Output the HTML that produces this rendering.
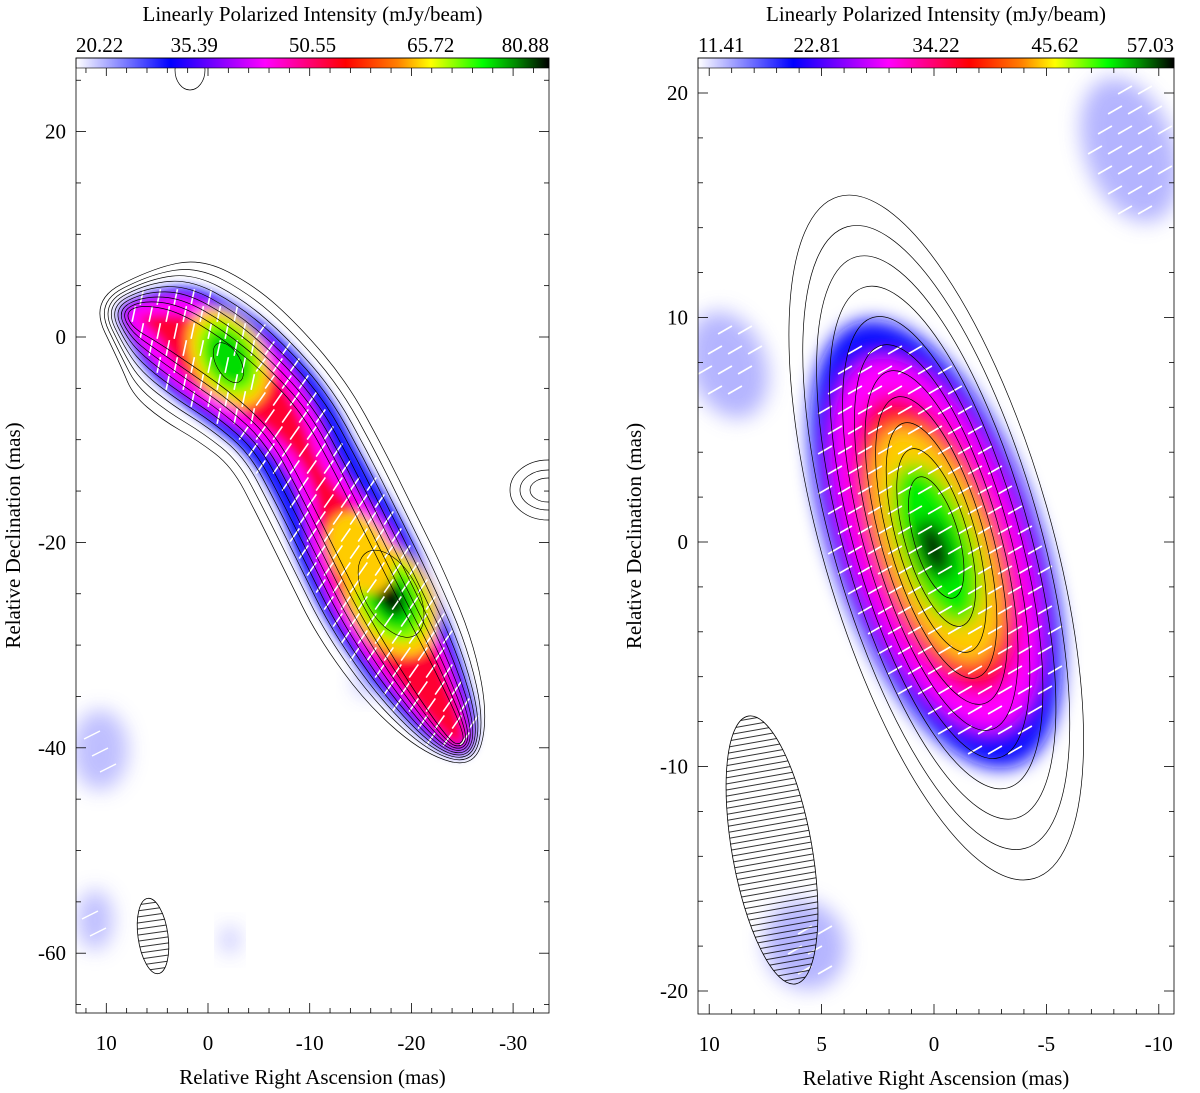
<!DOCTYPE html>
<html><head><meta charset="utf-8">
<style>
html,body{margin:0;padding:0;background:#fff;}
svg{display:block;font-family:"Liberation Serif",serif;}
</style></head>
<body>
<svg id="chart" width="1200" height="1093" viewBox="0 0 1200 1093" xmlns="http://www.w3.org/2000/svg">
<defs>
<linearGradient id="cmap" x1="0" x2="1" y1="0" y2="0">
<stop offset="0" stop-color="#ffffff"/><stop offset="0.2" stop-color="#0000ff"/>
<stop offset="0.4" stop-color="#ff00ff"/><stop offset="0.57" stop-color="#ff0000"/>
<stop offset="0.68" stop-color="#ff8000"/><stop offset="0.75" stop-color="#ffff00"/>
<stop offset="0.86" stop-color="#00ff00"/><stop offset="0.93" stop-color="#008800"/>
<stop offset="1" stop-color="#000000"/></linearGradient>
<filter id="blurL" x="-20%" y="-20%" width="140%" height="140%"><feGaussianBlur stdDeviation="5"/></filter>
<filter id="blurR" x="-20%" y="-20%" width="140%" height="140%"><feGaussianBlur stdDeviation="9"/></filter>
<filter id="blurF" x="-50%" y="-50%" width="200%" height="200%"><feGaussianBlur stdDeviation="10"/></filter>
<clipPath id="clipL"><rect x="76" y="58" width="473" height="955"/></clipPath>
<clipPath id="clipR"><rect x="698" y="58" width="476" height="956"/></clipPath>
<pattern id="hatch" width="10" height="6" patternUnits="userSpaceOnUse"><line x1="0" y1="3" x2="10" y2="3" stroke="#000" stroke-width="0.8"/></pattern>
</defs>
<g id="L" clip-path="url(#clipL)"></g>
<g id="R" clip-path="url(#clipR)"></g>
<g id="axes"></g>
</svg>
<script>
// ---- data ----
const leftRidgeRA  = [7, 4, 0, -4, -8, -11, -14, -17, -21, -24.5];
const leftRidgeDec = [2, 1, -1.5, -4.5, -8.5, -14, -20, -26, -33, -39];
const leftOuterHW  = [5, 7.5, 8, 7.5, 7, 7, 7, 7, 6, 3.5];
const contourLevels = [1, 0.88, 0.78, 0.69, 0.6, 0.51, 0.42, 0.33, 0.24];
const leftBlueHW = [2.5, 4.8, 5.6, 5.6, 5, 4.6, 5.6, 5.6, 4.3, 2.5];
const leftMagHW  = [1.5, 3.6, 4.6, 4.3, 3, 2, 4.1, 4.4, 3.1, 1.5];
const leftRedHW  = [0, 1.5, 3.6, 3, 1.5, 0.5, 3.1, 3.6, 2.3, 1];
const leftHotRA  = [-2, -18, -15];
const leftHotDec = [-2, -25.5, -21];
const leftHotLevel = [0.86, 1.0, 0.7];
const rightContourA = [15.8, 14.4, 13.0, 11.6, 10.2, 8.9, 7.7, 6.5, 5.3, 4.1, 2.8];
const rightContourB = [5.1, 4.6, 4.1, 3.65, 3.2, 2.8, 2.45, 2.1, 1.75, 1.4, 1.0];
const rightColorA = [10.5, 8.7, 7, 5.5, 3.8, 1.4];
const rightColorB = [4.6, 3.8, 3.0, 2.3, 1.6, 0.7];
const rightColors = ["#1010ff", "#ff00ff", "#ff0030", "#ffcc00", "#00ee00", "#000000"];
const leftXTicks = [10, 0, -10, -20, -30];
const leftYTicks = [20, 0, -20, -40, -60];
const rightXTicks = [10, 5, 0, -5, -10];
const rightYTicks = [20, 10, 0, -10, -20];
const leftCbarLabels = ["20.22", "35.39", "50.55", "65.72", "80.88"];
const rightCbarLabels = ["11.41", "22.81", "34.22", "45.62", "57.03"];

// ---- scales ----
const lx = ra => 208 - 10.17 * ra, ly = d => 337 - 10.27 * d;
const rx = ra => 934 - 22.48 * ra, ry = d => 542 - 22.45 * d;
const NS = "http://www.w3.org/2000/svg";
function mk(parent, tag, attrs){const e=document.createElementNS(NS,tag);for(const k in attrs)e.setAttribute(k,attrs[k]);parent.appendChild(e);return e;}
const L = document.getElementById('L'), R = document.getElementById('R'), A = document.getElementById('axes');

function ridgePoly(hw){
  const pts = leftRidgeRA.map((r,i)=>[lx(r), ly(leftRidgeDec[i])]);
  const left=[], right=[];
  for(let i=0;i<pts.length;i++){
    const a=pts[Math.max(0,i-1)], b=pts[Math.min(pts.length-1,i+1)];
    let dx=b[0]-a[0], dy=b[1]-a[1]; const n=Math.hypot(dx,dy); dx/=n; dy/=n;
    const w = hw[i]*10.2;
    left.push([pts[i][0]-dy*w, pts[i][1]+dx*w]);
    right.push([pts[i][0]+dy*w, pts[i][1]-dx*w]);
  }
  const p0=pts[0], p1=pts[1]; let ex=p0[0]-p1[0], ey=p0[1]-p1[1]; let en=Math.hypot(ex,ey);
  const cap0=[p0[0]+ex/en*hw[0]*10, p0[1]+ey/en*hw[0]*10];
  const q0=pts[pts.length-1], q1=pts[pts.length-2]; ex=q0[0]-q1[0]; ey=q0[1]-q1[1]; en=Math.hypot(ex,ey);
  const cap1=[q0[0]+ex/en*hw[hw.length-1]*10, q0[1]+ey/en*hw[hw.length-1]*10];
  return [cap0, ...left, cap1, ...right.reverse()];
}
function smoothPath(p){
  let d=`M${((p[0][0]+p[1][0])/2).toFixed(1)},${((p[0][1]+p[1][1])/2).toFixed(1)}`;
  for(let i=1;i<=p.length;i++){
    const c=p[i%p.length], n=p[(i+1)%p.length];
    d+=` Q${c[0].toFixed(1)},${c[1].toFixed(1)} ${((c[0]+n[0])/2).toFixed(1)},${((c[1]+n[1])/2).toFixed(1)}`;
  }
  return d+'Z';
}
function inPoly(x,y,p){let c=false;for(let i=0,j=p.length-1;i<p.length;j=i++){if(((p[i][1]>y)!=(p[j][1]>y))&&(x<(p[j][0]-p[i][0])*(y-p[i][1])/(p[j][1]-p[i][1])+p[i][0]))c=!c;}return c;}

// ---- left faint blobs ----
[[100,750,28,40],[95,920,18,30],[230,940,8,14],[372,680,18,16]].forEach((b,i)=>{
  const e=mk(L,'ellipse',{cx:b[0],cy:b[1],rx:b[2],ry:b[3],fill:'#b8b8ff',filter:'url(#blurF)',opacity:0.9});
  
  
});
// ---- left colour layers ----
const gL = mk(L,'g',{filter:'url(#blurL)'});
[[leftBlueHW,'#1a1aff'],[leftMagHW,'#ff00ff'],[leftRedHW,'#ff0030']].forEach(([hw,c])=>{
  const p=mk(gL,'path',{d:smoothPath(ridgePoly(hw)),fill:c});
  
  
});
leftHotRA.forEach((r,i)=>{
  const s=leftHotLevel[i], cx=lx(r), cy=ly(leftHotDec[i]);
  const layers=[['#ffcc00',1],['#88ff00',0.75],['#00dd00',0.55],['#004400',0.3],['#000',0.15]];
  layers.forEach(([c,f],k)=>{
    if(s<0.8 && k>0) return;
    if(s<0.95 && k>2) return;
    const e=mk(gL,'ellipse',{cx,cy,rx:42*f*s,ry:62*f*s,fill:c,transform:`rotate(-30 ${cx} ${cy})`});
    
    
  });
});
// ---- left polarization ticks ----
const bluePolyL = ridgePoly(leftBlueHW.map(v=>v*0.92));
for(let y=280;y<770;y+=17){for(let x=130;x<520;x+=17){
  const xx=x+((y/17)%2)*8;
  if(!inPoly(xx,y,bluePolyL)) continue;
  const ang = (y<420 && xx<260) ? -78 : -55, len=8;
  const dx=Math.cos(ang*Math.PI/180)*len, dy=Math.sin(ang*Math.PI/180)*len;
  const t=mk(L,'line',{x1:xx-dx,y1:y-dy,x2:xx+dx,y2:y+dy,stroke:'#fff','stroke-width':1.6});
  
  
}}
[[92,735],[100,752],[108,768],[90,915],[98,932]].forEach(p=>{
  const t=mk(L,'line',{x1:p[0]-8,y1:p[1]+4,x2:p[0]+8,y2:p[1]-4,stroke:'#fff','stroke-width':1.4});
  
  
});
// ---- left contours ----
contourLevels.forEach(s=>{
  const p=mk(L,'path',{d:smoothPath(ridgePoly(leftOuterHW.map(v=>v*s))),fill:'none',stroke:'#000','stroke-width':0.7});
  
  
});
[[ -2,-2.5,12,22],[-18,-25,26,48]].forEach(c=>{
  const e=mk(L,'ellipse',{cx:lx(c[0]),cy:ly(c[1]),rx:c[2],ry:c[3],fill:'none',stroke:'#000','stroke-width':0.6,transform:`rotate(-30 ${lx(c[0])} ${ly(c[1])})`});
  
  
});
[[548,490,38,30],[548,490,28,20],[548,490,18,12],[190,70,15,20]].forEach(c=>{
  const e=mk(L,'ellipse',{cx:c[0],cy:c[1],rx:c[2],ry:c[3],fill:'none',stroke:'#000','stroke-width':0.7});
  
  
});
{const e=mk(L,'ellipse',{cx:153,cy:936,rx:15,ry:38,fill:'url(#hatch)',stroke:'#000','stroke-width':0.8,transform:'rotate(-8 153 936)'});

}

// ---- right faint blobs ----
[[1130,150,45,75],[728,365,38,55],[805,945,40,45]].forEach(b=>{
  const e=mk(R,'ellipse',{cx:b[0],cy:b[1],rx:b[2],ry:b[3],fill:'#a8a8ff',filter:'url(#blurF)',opacity:0.85,transform:`rotate(-20 ${b[0]} ${b[1]})`});
  
  
});
const gR=mk(R,'g',{filter:'url(#blurR)'});
const rcx=rx(-0.1), rcy=ry(-0.1);
rightColorA.forEach((a,i)=>{
  const cx = i===5 ? rx(0) : rcx, cy = i===5 ? ry(-0.3) : rcy;
  const e=mk(gR,'ellipse',{cx,cy,rx:rightColorB[i]*22.48,ry:a*22.45,fill:rightColors[i],transform:`rotate(-20 ${cx} ${cy})`});
  
  
});
for(let y=90;y<1000;y+=20){for(let x=700;x<1175;x+=20){
  const xx=x+((y/20)%2)*10;
  const dx0=xx-rcx, dy0=y-rcy, t0=-20*Math.PI/180;
  const u=dx0*Math.cos(t0)+dy0*Math.sin(t0), v=-dx0*Math.sin(t0)+dy0*Math.cos(t0);
  const inMain=(u/(rightColorB[0]*22.48*0.95))**2+(v/(rightColorA[0]*22.45*0.95))**2<1;
  const inTR=((xx-1130)/40)**2+((y-150)/70)**2<1, inML=((xx-728)/30)**2+((y-365)/45)**2<1, inB=((xx-808)/25)**2+((y-950)/40)**2<1;
  if(!(inMain||inTR||inML||inB)) continue;
  const ang=-30, len=8;
  const dx=Math.cos(ang*Math.PI/180)*len, dy=Math.sin(ang*Math.PI/180)*len;
  const t=mk(R,'line',{x1:xx-dx,y1:y-dy,x2:xx+dx,y2:y+dy,stroke:'#fff','stroke-width':1.6});
  
  
}}
const ccx=rx(-0.1), ccy=ry(0.2);
rightContourA.forEach((a,i)=>{
  const e=mk(R,'ellipse',{cx:ccx,cy:ccy,rx:rightContourB[i]*22.48,ry:a*22.45,fill:'none',stroke:'#000','stroke-width':0.7,transform:`rotate(-16 ${ccx} ${ccy})`});
  
  
});
{const e=mk(R,'ellipse',{cx:772,cy:850,rx:40,ry:136,fill:'url(#hatch)',stroke:'#000','stroke-width':0.8,transform:'rotate(-10 772 850)'});

}

// ---- axes ----
function panel(x0,x1,y0,y1,xs,ys,xt,yt,xminor,yminor,cbl,cbLabels,name){
  const g=mk(A,'g',{});  
  const cb=mk(g,'rect',{x:x0,y:y0,width:x1-x0,height:10,fill:'url(#cmap)',stroke:'#000','stroke-width':0.6});
   
  const fr=mk(g,'rect',{x:x0,y:y0,width:x1-x0,height:y1-y0,fill:'none',stroke:'#000','stroke-width':0.8});
   
  cbLabels.forEach((l,i)=>{
    const t=mk(g,'text',{x:x0+(x1-x0)*i/4,y:y0-6,'font-size':21,'text-anchor':i==0?'start':(i==4?'end':'middle')});
    t.textContent=l;  
  });
  const tt=mk(g,'text',{x:(x0+x1)/2,y:y0-37,'font-size':21,'text-anchor':'middle'});
  tt.textContent='Linearly Polarized Intensity (mJy/beam)';  
  for(let v=-40;v<=40;v+=xminor){const X=xs(v); if(X<x0+1||X>x1-1)continue; const maj=xt.includes(v);
    mk(g,'line',{x1:X,y1:y1,x2:X,y2:y1-(maj?10:5),stroke:'#000','stroke-width':0.8});
    mk(g,'line',{x1:X,y1:y0+10,x2:X,y2:y0+10+(maj?8:5),stroke:'#000','stroke-width':0.8});}
  for(let v=-80;v<=40;v+=yminor){const Y=ys(v); if(Y<y0+11||Y>y1-1)continue; const maj=yt.includes(v);
    mk(g,'line',{x1:x0,y1:Y,x2:x0+(maj?10:5),y2:Y,stroke:'#000','stroke-width':0.8});
    mk(g,'line',{x1:x1,y1:Y,x2:x1-(maj?10:5),y2:Y,stroke:'#000','stroke-width':0.8});}
  xt.forEach(v=>{const t=mk(g,'text',{x:xs(v),y:y1+37,'font-size':21,'text-anchor':'middle'});t.textContent=v;
    });
  yt.forEach(v=>{const t=mk(g,'text',{x:x0-10,y:ys(v)+7,'font-size':21,'text-anchor':'end'});t.textContent=v;
    });
  const xl=mk(g,'text',{x:(x0+x1)/2,y:y1+71,'font-size':21,'text-anchor':'middle'});xl.textContent='Relative Right Ascension (mas)';
  
  const yy=(y0+y1)/2; const yl=mk(g,'text',{x:cbl,y:yy,'font-size':21,'text-anchor':'middle',transform:`rotate(-90 ${cbl} ${yy})`});
  yl.textContent='Relative Declination (mas)';
}
panel(76,549,58,1013,lx,ly,leftXTicks,leftYTicks,2,5,20,leftCbarLabels,'left');
panel(698,1174,58,1014,rx,ry,rightXTicks,rightYTicks,1,2,641,rightCbarLabels,'right');
</script>
</body></html>
